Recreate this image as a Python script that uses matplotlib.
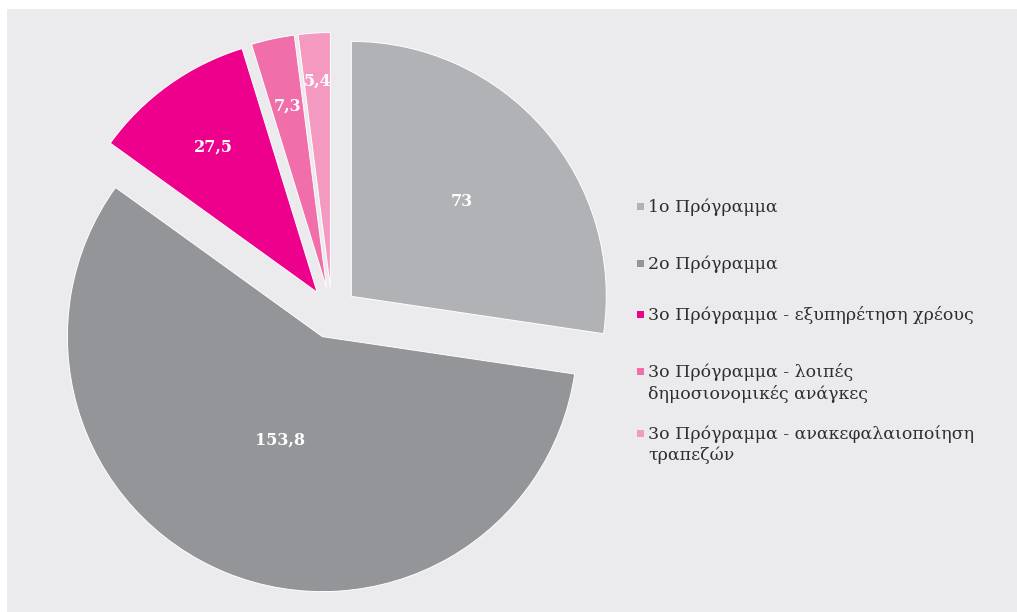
import numpy as np
import matplotlib.pyplot as plt
from matplotlib.patches import Rectangle

labels = [
    "1ο Πρόγραμμα",
    "2ο Πρόγραμμα",
    "3ο Πρόγραμμα - εξυπηρέτηση χρέους",
    "3ο Πρόγραμμα - λοιπές\nδημοσιονομικές ανάγκες",
    "3ο Πρόγραμμα - ανακεφαλαιοποίηση\nτραπεζών",
]
values = [73, 153.8, 27.5, 7.3, 5.4]
colors = ["#b1b2b5", "#939598", "#ec008c", "#f06ea9", "#f49ac1"]

bg = "#ebebed"
W, H = 1017, 612

fig = plt.figure(figsize=(W / 100, H / 100), dpi=100)
fig.patch.set_facecolor("white")
fig.add_artist(Rectangle((7 / W, 0), 1, 1 - 9 / H, transform=fig.transFigure,
                         facecolor=bg, edgecolor="none", zorder=-10))

# pie center ~ (332, 313) px, radius ~255 px
cx, cy, rad = 332, 313, 255
L = 1.25
half = rad * L
ax = fig.add_axes([(cx - half) / W, (H - cy - half) / H, 2 * half / W, 2 * half / H])
ax.set_xlim(-L, L)
ax.set_ylim(-L, L)
ax.axis("off")

wedges, _ = ax.pie(values, colors=colors, startangle=90, counterclock=False,
                   explode=[0.1] * len(values),
                   wedgeprops=dict(edgecolor="white", linewidth=0.7))

# value labels, radial fraction from each wedge's own centre
label_dist = [0.57, 0.44, 0.70, 0.73, 0.81]
for w, v, d in zip(wedges, values, label_dist):
    ang = np.deg2rad((w.theta1 + w.theta2) / 2)
    x0, y0 = w.center
    txt = f"{v:g}".replace(".", ",")
    ax.text(x0 + d * np.cos(ang), y0 + d * np.sin(ang), txt, ha="center", va="center",
            color="white", fontsize=11.5, fontweight="bold", family="DejaVu Serif")

# legend
leg_y = [205, 262, 313, 370, 432]
for lab, col, y in zip(labels, colors, leg_y):
    fig.add_artist(Rectangle((637 / W, 1 - (y + 5) / H), 7 / W, 7 / H,
                             transform=fig.transFigure, facecolor=col, edgecolor="none"))
    fig.text(648 / W, 1 - (y - 7) / H, lab, ha="left", va="top", fontsize=12.5,
             family="DejaVu Serif", color="#2e2e2e", linespacing=1.3)

fig.savefig("out.png", dpi=100, facecolor=fig.get_facecolor())
